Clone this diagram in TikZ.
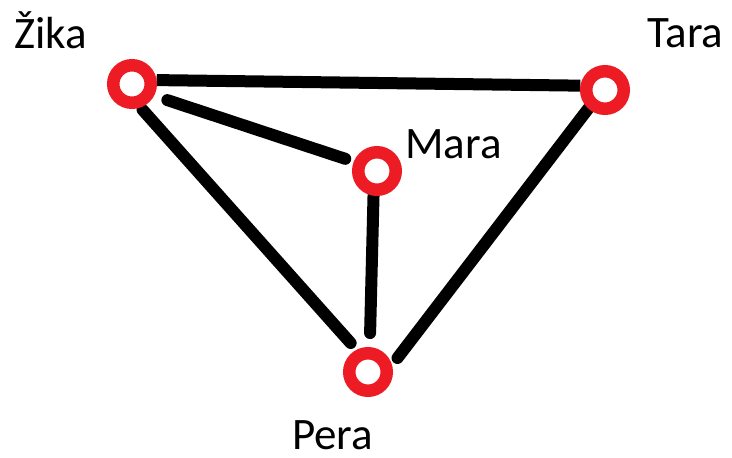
\documentclass[tikz,border=0pt]{standalone}
\usepackage{fontspec}
\setmainfont{Carlito}
\usetikzlibrary{backgrounds}
\definecolor{ringred}{HTML}{ED1C24}
\begin{document}
\begin{tikzpicture}[x=1pt,y=-1pt,
  vert/.style={circle,draw=ringred,fill=white,line width=12.5pt,minimum size=37.5pt,inner sep=0pt},
  lbl/.style={anchor=base west,inner sep=0pt,font=\fontsize{45}{52}\selectfont},
  edge/.style={line width=12pt,black,line cap=round}]
\useasboundingbox (0,0) rectangle (732,458);
\node[vert] (zika) at (132,84) {};
\node[vert] (tara) at (605,90) {};
\node[vert] (mara) at (377,171) {};
\node[vert] (pera) at (368,372) {};
\node[lbl] (lz) at (14,48) {Žika};
\node[lbl] (lt) at (647,47) {Tara};
\node[lbl] (lm) at (405,158) {Mara};
\node[lbl] (lp) at (292,449) {Pera};
\begin{scope}[on background layer]
\draw[edge,line cap=butt] (zika.9) -- (tara.170);
\draw[edge,shorten <=14pt,shorten >=9pt] (zika.-28) -- (mara.158);
\draw[edge,shorten <=3pt,shorten >=9pt] (zika.-70) -- (pera.117);
\draw[edge,shorten >=14pt] (mara.-98) -- (pera.86);
\draw[edge,shorten >=9pt] (tara.228) -- (pera.16);
\end{scope}
\end{tikzpicture}
\end{document}
